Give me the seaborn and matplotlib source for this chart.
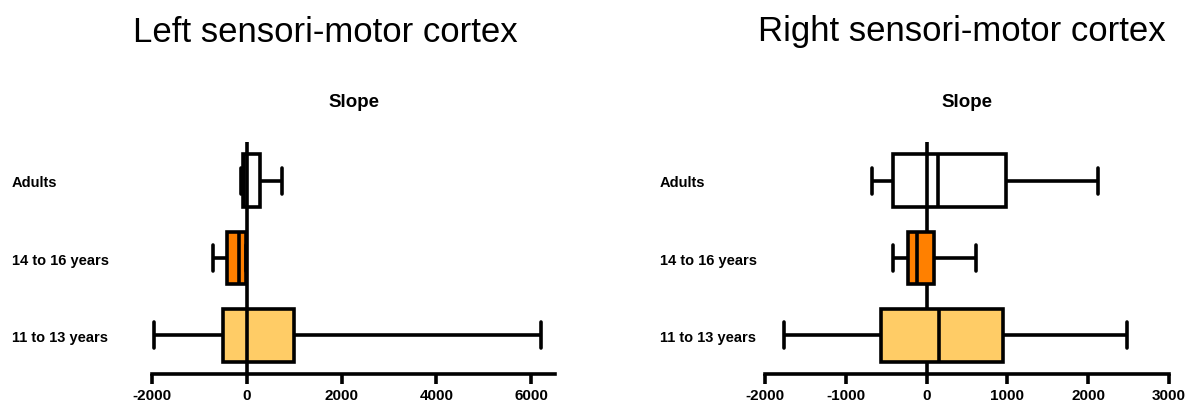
import pandas as pd
import matplotlib.pyplot as plt
import seaborn as sns

# groups shown top to bottom
groups = ['Adults', '14 to 16 years', '11 to 13 years']
colors = ['white', '#FF8000', '#FFCC66']

# five-number summaries (min, q1, median, q3, max)
left_adults = [-130, -90, -60, 280, 750]
left_14_16 = [-720, -420, -170, -10, -10]
left_11_13 = [-1960, -500, 0, 1000, 6210]

right_adults = [-670, -410, 140, 980, 2120]
right_14_16 = [-420, -225, -115, 90, 615]
right_11_13 = [-1770, -570, 150, 945, 2480]

left_ticks = [-2000, 0, 2000, 4000, 6000]
right_ticks = [-2000, -1000, 0, 1000, 2000, 3000]


def make_df(adults, teens, kids):
    rows = []
    for g, vals in zip(groups, [adults, teens, kids]):
        for v in vals:
            rows.append({'group': g, 'slope': v})
    return pd.DataFrame(rows)


left = make_df(left_adults, left_14_16, left_11_13)
right = make_df(right_adults, right_14_16, right_11_13)

sns.set_style('white')
plt.rcParams['font.family'] = ['Liberation Sans', 'DejaVu Sans']
plt.rcParams['text.color'] = 'black'
plt.rcParams['xtick.color'] = 'black'
plt.rcParams['ytick.color'] = 'black'

fig = plt.figure(figsize=(11.92, 4.10), dpi=100)
ax1 = fig.add_axes([152 / 1192, 1 - 375 / 410, 403 / 1192, 232 / 410])
ax2 = fig.add_axes([765 / 1192, 1 - 375 / 410, 404 / 1192, 232 / 410])


def draw(ax, df, ticks, xlim, label_pad):
    ax.axvline(0, color='black', lw=2.6, zorder=0.5)
    sns.boxplot(data=df, x='slope', y='group', hue='group', order=groups,
                hue_order=groups, palette=dict(zip(groups, colors)),
                saturation=1, whis=(0, 100), width=0.68, linewidth=2.6,
                linecolor='black', legend=False, ax=ax)
    # adults box is see-through so the zero line shows inside it
    for p in ax.patches:
        fc = p.get_facecolor()
        if fc[0] == 1 and fc[1] == 1 and fc[2] == 1:
            p.set_facecolor((1, 1, 1, 0))
    ax.set_xlim(*xlim)
    ax.set_ylim(2.5, -0.5)
    ax.set_xticks(ticks)
    ax.set_xticklabels([str(t) for t in ticks], fontweight='bold', fontsize=11)
    ax.set_yticks(range(len(groups)))
    ax.set_yticklabels(groups, fontweight='bold', fontsize=10.5, ha='left')
    ax.tick_params(axis='y', length=0, pad=label_pad)
    ax.tick_params(axis='x', direction='out', length=7, width=2.6, pad=3,
                   bottom=True)
    for s in ['top', 'right', 'left']:
        ax.spines[s].set_visible(False)
    ax.spines['bottom'].set_linewidth(2.6)
    ax.spines['bottom'].set_color('black')
    ax.set_xlabel('')
    ax.set_ylabel('')
    ax.set_title('Slope', fontweight='bold', fontsize=13.5, pad=26)


draw(ax1, left, left_ticks, (-2000, 6500), 140 * 0.72)
draw(ax2, right, right_ticks, (-2000, 3000), 105 * 0.72)

fig.text(325 / 1192, 1 - 32 / 410, 'Left sensori-motor cortex', fontsize=25,
         ha='center', va='center')
fig.text(962 / 1192, 1 - 32 / 410, 'Right sensori-motor cortex', fontsize=25,
         ha='center', va='center')

fig.savefig('out.png', dpi=100)
